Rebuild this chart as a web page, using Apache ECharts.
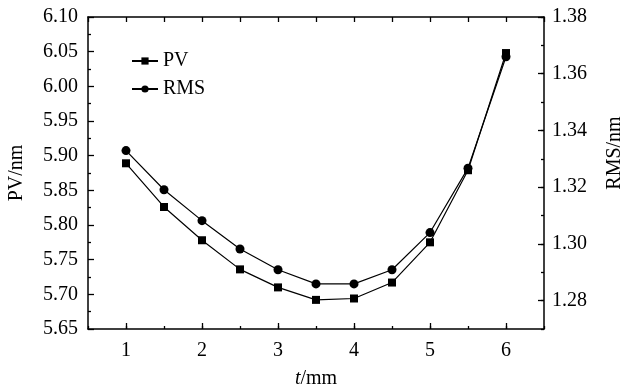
<!DOCTYPE html>
<html>
<head>
<meta charset="utf-8">
<script src="https://cdn.jsdelivr.net/npm/echarts@6/dist/echarts.min.js"></script>
<style>
  html, body { margin: 0; padding: 0; background: #fff; }
  #chart { width: 622px; height: 389px; }
</style>
</head>
<body>
<div id="chart"></div>
<script>
// thickness t in mm
const tValues = [1, 1.5, 2, 2.5, 3, 3.5, 4, 4.5, 5, 5.5, 6]
const pvValues = [5.889, 5.826, 5.778, 5.736, 5.710, 5.692, 5.694, 5.717, 5.775, 5.879, 6.048]
const rmsValues = [1.3329, 1.3191, 1.3082, 1.2982, 1.2909, 1.2859, 1.2859, 1.2909, 1.3040, 1.3267, 1.3660]

const xTickLabels = [1, 2, 3, 4, 5, 6]
const rmsTickLabels = [1.28, 1.30, 1.32, 1.34, 1.36, 1.38]

const font = 'Liberation Serif'
const black = '#000'

const chart = echarts.init(document.getElementById('chart'), null, { renderer: 'canvas' })

const lineStyle = { color: black, width: 1.2 }
const tickStyle = { color: black, width: 1.3 }

chart.setOption({
  animation: false,
  backgroundColor: '#fff',
  textStyle: { fontFamily: font, color: black },
  grid: { left: 88, right: 78, top: 17, bottom: 60, containLabel: false, outerBoundsMode: 'none' },
  legend: {
    orient: 'vertical',
    left: 126,
    top: 46,
    itemWidth: 26,
    itemHeight: 9,
    itemGap: 8,
    textStyle: { fontFamily: font, fontSize: 20, color: black },
    data: ['PV', 'RMS'],
  },
  xAxis: [
    {
      type: 'value', position: 'bottom', min: 0.5, max: 6.5,
      axisLine: { lineStyle: { color: black, width: 1.5 } },
      axisTick: { inside: true, length: 6, lineStyle: tickStyle, customValues: xTickLabels },
      axisLabel: { customValues: xTickLabels, fontSize: 20, color: black, margin: 12, fontFamily: font },
      splitLine: { show: false },
      name: '{i|t}/mm',
      nameLocation: 'middle',
      nameGap: 40,
      nameTextStyle: {
        fontSize: 20, color: black, fontFamily: font,
        rich: { i: { fontStyle: 'italic', fontSize: 20, fontFamily: font, color: black } },
      },
    },
    {
      // minor ticks on the bottom edge
      type: 'value', position: 'bottom', min: 0.5, max: 6.5, interval: 0.5,
      axisLine: { show: false },
      axisTick: { inside: true, length: 3, lineStyle: tickStyle },
      axisLabel: { show: false },
      splitLine: { show: false },
    },
    {
      type: 'value', position: 'top', min: 0.5, max: 6.5, interval: 0.5,
      axisLine: { lineStyle: { color: black, width: 1.5 } },
      axisTick: { inside: true, length: 5, lineStyle: tickStyle },
      axisLabel: { show: false },
      splitLine: { show: false },
    },
  ],
  yAxis: [
    {
      type: 'value', position: 'left', min: 5.65, max: 6.10, interval: 0.05,
      axisLine: { show: true, lineStyle: { color: black, width: 1.5 } },
      axisTick: { show: true, inside: true, length: 6, lineStyle: tickStyle },
      minorTick: { show: true, splitNumber: 2, length: 3, lineStyle: tickStyle },
      axisLabel: { fontSize: 20, color: black, margin: 10, fontFamily: font, formatter: (v) => v.toFixed(2) },
      splitLine: { show: false },
      name: 'PV/nm',
      nameLocation: 'middle',
      nameGap: 61,
      nameTextStyle: { fontSize: 20, color: black, fontFamily: font },
    },
    {
      type: 'value', position: 'right', min: 1.27, max: 1.38,
      axisLine: { show: true, lineStyle: { color: black, width: 1.5 } },
      axisTick: { show: true, inside: true, length: 6, lineStyle: tickStyle, customValues: rmsTickLabels },
      axisLabel: { customValues: rmsTickLabels, fontSize: 20, color: black, margin: 8, fontFamily: font, formatter: (v) => v.toFixed(2) },
      splitLine: { show: false },
      name: 'RMS/nm',
      nameLocation: 'middle',
      nameGap: 61,
      nameRotate: 90,
      nameTextStyle: { fontSize: 20, color: black, fontFamily: font, padding: [0, 0, 0, 40] },
    },
    {
      // minor ticks on the right edge
      type: 'value', position: 'right', min: 1.27, max: 1.38, interval: 0.01,
      axisLine: { show: false },
      axisTick: { show: true, inside: true, length: 3, lineStyle: tickStyle },
      axisLabel: { show: false },
      splitLine: { show: false },
    },
  ],
  series: [
    {
      name: 'PV',
      type: 'line',
      xAxisIndex: 0,
      yAxisIndex: 0,
      data: tValues.map((t, i) => [t, pvValues[i]]),
      symbol: 'rect',
      symbolSize: 8,
      itemStyle: { color: black },
      lineStyle,
    },
    {
      name: 'RMS',
      type: 'line',
      xAxisIndex: 0,
      yAxisIndex: 1,
      data: tValues.map((t, i) => [t, rmsValues[i]]),
      symbol: 'circle',
      symbolSize: 9,
      itemStyle: { color: black },
      lineStyle,
    },
  ],
})
</script>
</body>
</html>
